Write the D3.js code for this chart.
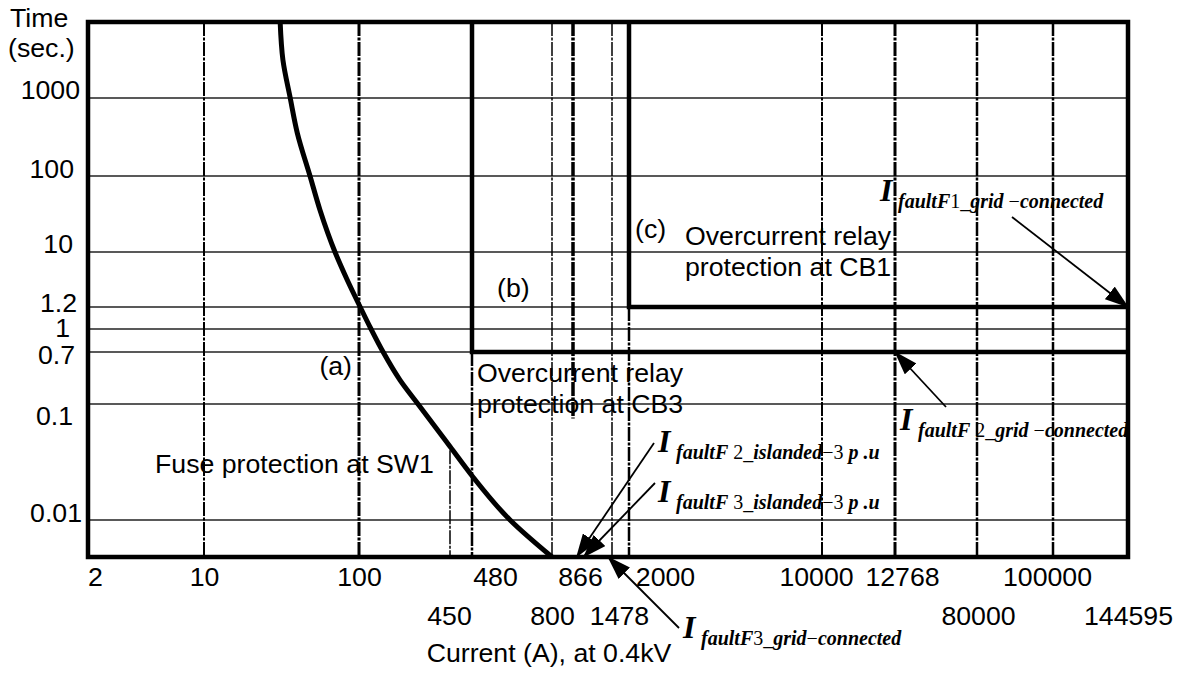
<!DOCTYPE html>
<html>
<head>
<meta charset="utf-8">
<script src="https://cdn.jsdelivr.net/npm/d3@7"></script>
<style>
body { margin: 0; background: #fff; }
svg text { font-family: "Liberation Sans", Arial, sans-serif; fill: #000; }
.mathI { font-family: "Liberation Serif", "Times New Roman", serif; font-weight: bold; font-style: italic; font-size: 32px; }
.mathSub { font-family: "Liberation Serif", "Times New Roman", serif; font-size: 20px; white-space: pre; }
</style>
</head>
<body>
<div id="chart"></div>
<script>
const width = 1179;
const height = 673;

// ---- data ----
// current axis (A): every value that carries a gridline
const xTicks = [2, 10, 100, 450, 480, 800, 866, 1478, 2000, 10000, 12768, 80000, 100000, 144595];
const xLabelsTop = [2, 10, 100, 480, 866, 2000, 10000, 12768, 100000];
const xLabelsBottom = [450, 800, 1478, 80000, 144595];

// time axis (s)
const yMin = 0.001, yMax = 10000;
const yTicks = [0.01, 0.1, 0.7, 1, 1.2, 10, 100, 1000];
const yLabels = ["0.01", "0.1", "0.7", "1", "1.2", "10", "100", "1000"];

// fuse curve at SW1
const fuseCurrent = [31, 32.3, 36, 40, 48.3, 56, 70, 84, 102, 122, 149, 197, 265, 450, 483, 612, 800];
const fuseTime = [10000, 3160, 1000, 355, 100, 35.7, 10, 3.4, 1.2, 1, 0.7, 0.245, 0.1, 0.043, 0.0235, 0.01, 0.001];

// definite-time overcurrent relays: pickup current, trip time
const relayPickup = [480, 2000];   // CB3, CB1
const relayTime = [0.7, 1.2];

// dashed reference lines: current, top time, bottom time
const refCurrent = [10, 100, 450, 480, 800, 866, 1478, 2000, 10000, 12768, 80000, 100000];
const refTop = [yMax, yMax, 0.04, 0.7, yMax, yMax, yMax, 1.2, yMax, yMax, yMax, yMax];
const refBottom = [yMin, yMin, yMin, yMin, yMin, 0.075, yMin, yMin, yMin, yMin, yMin, yMin];

// fault current annotations: subscript text and the point the arrow shows
const faultSubs = ["faultF1_grid −connected", "faultF 2_grid −connected", "faultF 2_islanded−3 p .u", "faultF 3_islanded−3 p .u", "faultF3_grid−connected"];
const faultCurrent = [144595, 12768, 910, 1000, 1400];
const faultTime = [1.2, 0.7, yMin, yMin, yMin];

// ---- layout ----
const xPx = [88, 204, 359, 450, 472, 552, 573, 612, 629, 822, 895, 977, 1053, 1128];
const yDomain = [yMin, 0.01, 0.1, 0.7, 1, 1.2, 10, 100, 1000, yMax];
const yPx = [557, 520, 404, 352, 329, 307, 252, 176, 98, 22];
const xNudgeTop = [7, 0, 0, 23, 7, 36, -6, 7, -6];
const xNudgeBottom = [-1, 0, 7, 1, 0];
const yLabelEnd = [82, 73, 75, 70, 77, 73, 74, 80];
const yLabelDy = [2, 21, 12, 8, 5, 1, 2, 1];
const refWidth = [2, 3, 1.5, 2.5, 1.5, 3.5, 1.5, 2.5, 2, 3, 2.5, 2.5];
const faultLabelPos = [[880, 201], [900, 430], [658, 452], [658, 502], [683, 638]];
const faultTail = [[1012, 217], [946, 407], [654, 443], [655, 483], [679, 628]];
const fontSize = "26.7px";

const svg = d3.select("#chart").append("svg")
    .attr("width", width)
    .attr("height", height);

const x = d3.scaleLog().domain(xTicks).range(xPx);
const y = d3.scaleLog().domain(yDomain).range(yPx);

const xLo = xTicks[0], xHi = xTicks[xTicks.length - 1];

// horizontal gridlines
svg.append("g").selectAll("line")
    .data(yTicks)
    .enter().append("line")
    .attr("x1", x(xLo)).attr("x2", x(xHi))
    .attr("y1", d => y(d)).attr("y2", d => y(d))
    .attr("stroke", "#222")
    .attr("stroke-width", 1.6);

// dashed vertical reference lines
svg.append("g").selectAll("line")
    .data(refCurrent)
    .enter().append("line")
    .attr("x1", d => x(d)).attr("x2", d => x(d))
    .attr("y1", (d, i) => y(refTop[i]))
    .attr("y2", (d, i) => y(refBottom[i]))
    .attr("stroke", "#000")
    .attr("stroke-width", (d, i) => refWidth[i])
    .attr("stroke-dasharray", "14,1.5,3,1.5");

// fuse curve
const fuse = fuseCurrent.map((c, i) => [c, fuseTime[i]]);
svg.append("path")
    .datum(fuse)
    .attr("fill", "none")
    .attr("stroke", "#000")
    .attr("stroke-width", 5)
    .attr("stroke-linejoin", "round")
    .attr("d", d3.line().x(d => x(d[0])).y(d => y(d[1])).curve(d3.curveMonotoneY));

// relay characteristics
const relayLine = d3.line().x(d => x(d[0])).y(d => y(d[1]));
relayPickup.forEach((p, i) => {
    svg.append("path")
        .datum([[p, yMax], [p, relayTime[i]], [xHi, relayTime[i]]])
        .attr("fill", "none")
        .attr("stroke", "#000")
        .attr("stroke-width", 4.5)
        .attr("d", relayLine);
});

// frame
svg.append("rect")
    .attr("x", x(xLo)).attr("y", y(yMax))
    .attr("width", x(xHi) - x(xLo))
    .attr("height", y(yMin) - y(yMax))
    .attr("fill", "none")
    .attr("stroke", "#000")
    .attr("stroke-width", 4.5);

// x axis labels, two rows
function xRow(values, nudge, offset) {
    const g = svg.append("g")
        .attr("transform", `translate(0,${y(yMin) + offset})`)
        .call(d3.axisBottom(x).tickValues(values).tickSize(0).tickPadding(0).tickFormat(d3.format("d")));
    g.select(".domain").remove();
    g.selectAll("text")
        .attr("font-family", "Liberation Sans, Arial, sans-serif")
        .attr("font-size", fontSize)
        .attr("dy", 0)
        .attr("dx", (d, i) => nudge[i]);
}
xRow(xLabelsTop, xNudgeTop, 29);
xRow(xLabelsBottom, xNudgeBottom, 68);

// y axis labels
const yAxis = svg.append("g")
    .call(d3.axisLeft(y).tickValues(yTicks).tickSize(0).tickFormat((d, i) => yLabels[i]));
yAxis.select(".domain").remove();
yAxis.selectAll(".tick")
    .attr("transform", d => `translate(0,${y(d)})`);
yAxis.selectAll("text")
    .attr("font-family", "Liberation Sans, Arial, sans-serif")
    .attr("font-size", fontSize)
    .attr("x", (d, i) => yLabelEnd[i])
    .attr("dy", 0)
    .attr("y", (d, i) => yLabelDy[i]);

// axis titles
svg.append("text").attr("x", 10).attr("y", 27).attr("font-size", fontSize).text("Time");
svg.append("text").attr("x", 8).attr("y", 57).attr("font-size", fontSize).text("(sec.)");
svg.append("text").attr("x", 549).attr("y", 662).attr("text-anchor", "middle")
    .attr("font-size", fontSize).text("Current (A), at 0.4kV");

// region notes
const notes = [
    [["Fuse protection at SW1"], 155, 473, "start"],
    [["(a)"], 352, 375, "end"],
    [["(b)"], 497, 297, "start"],
    [["(c)"], 635, 238, "start"],
    [["Overcurrent relay", "protection at CB1"], 685, 245, "start"],
    [["Overcurrent relay", "protection at CB3"], 477, 382, "start"]
];
notes.forEach(([lines, nx, ny, anchor]) => {
    const t = svg.append("text")
        .attr("x", nx).attr("y", ny)
        .attr("text-anchor", anchor)
        .attr("font-size", fontSize);
    lines.forEach((l, i) => {
        t.append("tspan").attr("x", nx).attr("dy", i ? 31 : 0).text(l);
    });
});

// arrows
svg.append("defs").append("marker")
    .attr("id", "head")
    .attr("markerUnits", "userSpaceOnUse")
    .attr("markerWidth", 24).attr("markerHeight", 16)
    .attr("refX", 23).attr("refY", 8)
    .attr("orient", "auto")
    .append("path")
    .attr("d", "M0,0L24,8L0,16Z")
    .attr("fill", "#000");

faultSubs.forEach((sub, i) => {
    svg.append("line")
        .attr("x1", faultTail[i][0]).attr("y1", faultTail[i][1])
        .attr("x2", x(faultCurrent[i])).attr("y2", y(faultTime[i]))
        .attr("stroke", "#000")
        .attr("stroke-width", 1.8)
        .attr("marker-end", "url(#head)");

    const [lx, ly] = faultLabelPos[i];
    svg.append("text").attr("class", "mathI").attr("x", lx).attr("y", ly).text("I");
    const t = svg.append("text").attr("class", "mathSub").attr("x", lx + 18).attr("y", ly + 7);
    sub.split(/([0-9_−\s]+)/).filter(s => s.length).forEach(s => {
        const upright = /^[0-9_−\s]+$/.test(s);
        t.append("tspan")
            .attr("font-style", upright ? "normal" : "italic")
            .attr("font-weight", upright ? "normal" : "bold")
            .text(s);
    });
});
</script>
</body>
</html>
